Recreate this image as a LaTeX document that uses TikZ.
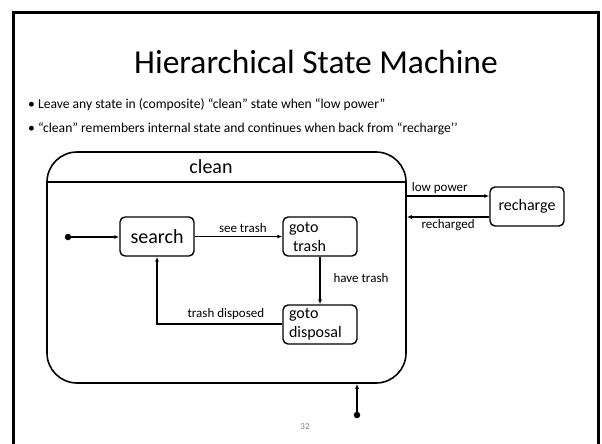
\documentclass[tikz,border=0pt]{standalone}
\usepackage{fontspec}
\setmainfont{Carlito}
\usetikzlibrary{arrows.meta,calc}
\begin{document}
\begin{tikzpicture}[x=1pt,y=-1pt,
  stbox/.style={draw,line width=1.4pt,rounded corners=5pt,minimum width=74pt,minimum height=39pt,inner sep=0pt},
  gbox/.style={stbox,text width=62pt,inner xsep=6pt,align=left,font=\fontsize{16}{19}\selectfont},
  arr/.style={line width=1.3pt,-{Latex[length=5pt,width=4pt]}},
  lbl/.style={font=\fontsize{13}{15}\selectfont,inner sep=1pt},
  dot/.style={circle,fill=black,inner sep=0pt,minimum size=6.5pt}]
\useasboundingbox (0,0) rectangle (602,444);
% slide frame
\draw[line width=3pt] (13,444) -- (13,13) -- (598,13) -- (598,444);
% title and bullets
\node (title) at (316,62) {\fontsize{33.5}{40}\selectfont Hierarchical State Machine};
\node[anchor=west,inner sep=0pt] (b1) at (28,105) {\fontsize{13.6}{16}\selectfont • Leave any state in (composite) “clean” state when “low power”};
\node[anchor=west,inner sep=0pt] (b2) at (28,129) {\fontsize{13.6}{16}\selectfont • “clean” remembers internal state and continues when back from “recharge’’};
% composite state
\node[draw,line width=1.6pt,rounded corners=30pt,minimum width=359pt,minimum height=231pt,inner sep=0pt] (clean) at (226.5,267.5) {};
\draw[line width=1.6pt] (clean.west |- 0,182) coordinate (hl) -- (clean.east |- 0,182) coordinate (hr);
\node (cleanlbl) at (211,167) {\fontsize{20}{24}\selectfont clean};
% states
\node[stbox,font=\fontsize{20}{24}\selectfont] (search) at (157,236.5) {search};
\node[gbox] (trash) at (320,236.5) {goto\\\hspace{4pt}trash};
\node[gbox] (disp) at (320,324.5) {goto\\disposal};
\node[stbox,font=\fontsize{16}{19}\selectfont] (recharge) at (527,206.5) {recharge};
% initial states
\node[dot] (init1) at (68,237) {};
\node[dot] (init2) at (357,415) {};
\draw[arr] (init1) -- (search.west |- init1);
\draw[arr] (init2) -- (init2 |- clean.south);
% transitions
\draw[arr] (search) -- node[lbl,above=2pt,pos=0.55] {see trash} (trash);
\draw[arr] (trash) -- node[lbl,right=12pt,pos=0.45] {have trash} (disp);
\draw[arr] (disp.west |- 0,324) -- node[lbl,above=3pt,pos=0.45] {trash disposed} (157,324) -- (search.south);
\draw[arr] (clean.east |- 0,196) -- node[lbl,above=1pt,pos=0.4] {low power} (recharge.west |- 0,196);
\draw[arr] (recharge.west |- 0,217) -- node[lbl,below=1pt] {recharged} (clean.east |- 0,217);
% page number
\node[text=gray,font=\fontsize{9}{11}\selectfont] (pg) at (305,427) {32};
\end{tikzpicture}
\end{document}
